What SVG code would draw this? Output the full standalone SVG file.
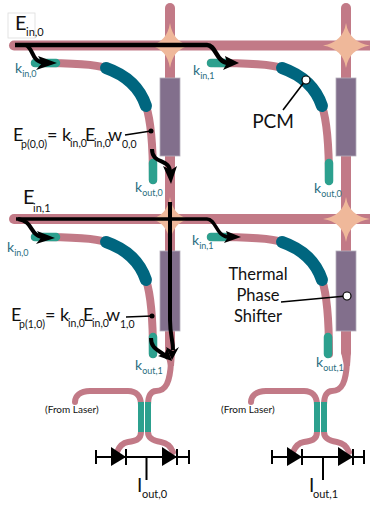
<svg xmlns="http://www.w3.org/2000/svg" width="370" height="506" viewBox="0 0 370 506">
<style>
text{font-family:Lato,"Open Sans",sans-serif;fill:#111}
.wg{fill:none;stroke:#c27a87;stroke-width:10;stroke-linecap:round}
.wc{fill:none;stroke:#c27a87;stroke-width:8;stroke-linecap:round}
.wt{fill:none;stroke:#c27a87;stroke-width:6;stroke-linecap:round}
.star{fill:#efb89a}
.ps{fill:#826f8c;stroke:#b5aebb;stroke-width:.8}
.cp{fill:none;stroke:#2ca08e;stroke-width:8.500;stroke-linecap:round}
.ct{fill:#2ca08e}
.pcm{fill:none;stroke:#00667f;stroke-width:12;stroke-linecap:round}
.k{fill:#2b6e80;font-size:14px}
.k tspan{font-size:9px}
.eq{font-size:18px}
.sub{font-size:10.500px}
.ar{fill:none;stroke:#000;stroke-width:4}
.ah{fill:#000}
.ld{fill:none;stroke:#000;stroke-width:1.6}
.det{fill:none;stroke:#000;stroke-width:2}
.lab{font-size:16.500px;text-anchor:middle}
.las{font-size:10px}
</style>
<g id="waveguides">
<path class="wg" d="M170 8V352"/><path class="wg" d="M346 8V352"/>
<path class="wg" d="M14 45.500H370"/><path class="wg" d="M14 219H370"/>
<path class="wc" d="M35 63C70 63 95 64 106 68C126 75 140 88 146 106C150 118 153 140 153 180"/>
<path class="wc" d="M211 63C246 63 271 64 282 68C302 75 316 88 322 106C326 118 329 140 329 180"/>
<path class="wc" d="M35 237C70 237 95 238 106 242C126 249 140 262 146 280C150 292 153 314 153 354"/>
<path class="wc" d="M211 237C246 237 271 238 282 242C302 249 316 262 322 280C326 292 329 314 329 354"/>
<path class="wt" d="M75 402C75 396 80 391 90 391H128C136 391 141 396 141 405V432C141 440 135 441 128 442C122 443 119 447 117 452"/>
<path class="wt" d="M171 362C170 382 166 391 156 391C151 391 148 396 148 405V432C148 439 154 441 161 442C167 443 171 447 173 452"/>
<path class="wt" d="M251 402C251 396 256 391 266 391H304C312 391 317 396 317 405V432C317 440 311 441 304 442C298 443 295 447 293 452"/>
<path class="wt" d="M347 362C346 382 342 391 332 391C327 391 324 396 324 405V432C324 439 330 441 337 442C343 443 347 447 349 452"/>
<path d="M165 352H175L174 366H168Z" fill="#c27a87"/><path d="M341 352H351L350 366H344Z" fill="#c27a87"/>
</g>
<g id="crossing-0-0"><path class="star" d="M170 23Q173 42 190 45.500Q173 49 170 68Q167 49 150 45.500Q167 42 170 23Z"/></g>
<g id="crossing-1-0"><path class="star" d="M346 23Q349 42 370 45.500Q349 49 346 68Q343 49 323 45.500Q343 42 346 23Z"/></g>
<g id="crossing-0-1"><path class="star" d="M170 197Q173 216 190 219Q173 222 170 242Q167 222 150 219Q167 216 170 197Z"/></g>
<g id="crossing-1-1"><path class="star" d="M346 197Q349 216 370 219Q349 222 346 242Q343 222 323 219Q343 216 346 197Z"/></g>
<g id="shifters">
<rect class="ps" x="160" y="78" width="20" height="78"/><rect class="ps" x="336" y="78" width="20" height="78"/>
<rect class="ps" x="160" y="251" width="20" height="80"/><rect class="ps" x="336" y="251" width="20" height="80"/>
</g>
<g id="couplers">
<path class="cp" d="M35 63H56"/><path class="cp" d="M211 63H225"/><path class="cp" d="M153 163V180"/><path class="cp" d="M329 163V181"/>
<path class="cp" d="M35 237H56"/><path class="cp" d="M211 237H225"/><path class="cp" d="M153 337V354"/><path class="cp" d="M328 337V354"/>
<rect class="ct" x="138" y="402" width="6" height="30"/><rect class="ct" x="145" y="402" width="6" height="30"/>
<rect class="ct" x="314" y="402" width="6" height="30"/><rect class="ct" x="321" y="402" width="6" height="30"/>
</g>
<g id="pcm">
<path class="pcm" d="M106 68C126 75 140 88 146 106"/><path class="pcm" d="M282 68C302 75 316 88 322 106"/>
<path class="pcm" d="M106 242C126 249 140 262 146 280"/><path class="pcm" d="M282 242C302 249 316 262 322 280"/>
</g>
<g id="connectors">
<path class="ar" style="stroke-width:4.500" d="M15 45H207C216 45 216 62 228 63"/>
<path class="ar" d="M26 45C35 50 30 62 46 63"/><path class="ah" d="M57 63L36 70L42 63L38 56Z"/><path class="ah" d="M239 63L223 70L227 63L225 56Z"/>
<path class="ar" d="M152 149C152 165 170 158 170 172"/><path class="ah" d="M171 184L163 166L171 170L177 166Z"/>
<path class="ar" style="stroke-width:3.500" d="M16 219H207C216 219 216 236 228 237"/>
<path class="ar" d="M18 219C35 222 28 236 46 238"/><path class="ah" d="M55 238L36 244L41 238L37 231Z"/><path class="ah" d="M241 237L224 243L228 237L226 231Z"/>
<path class="ar" d="M170 202V320C170 335 173 340 173 350"/><path class="ah" d="M172 360L166 347L173 351L179 347Z"/>
<path class="ar" d="M151 338C151 350 160 350 168 358"/><path class="ah" d="M172 361L158 356L165 353L167 348Z"/>
</g>
<g id="leaders">
<path class="ld" d="M125 135L151 131"/><circle cx="151" cy="131" r="2.500"/>
<path class="ld" d="M126 317L152 316"/><circle cx="152" cy="316" r="2.500"/>
<path class="ld" d="M283 110L305 81"/><circle cx="306" cy="80" r="4" fill="#fff" stroke="#000" stroke-width="1.200"/>
<path class="ld" d="M281 302L346 296"/><circle cx="347" cy="296" r="4" fill="#fff" stroke="#000" stroke-width="1.200"/>
</g>
<g id="detector-0">
<path class="det" d="M96 457H189M96 450V464M126 449V465M177 449V465M189 450V464M146.500 457V480"/>
<path d="M111 447L126 457L111 466Z"/><path d="M162 447L177 457L162 466Z"/>
</g>
<g id="detector-1">
<path class="det" d="M272 457H364M272 450V464M302 449V465M353 449V465M364 450V464M323 457V480"/>
<path d="M287 447L302 457L287 466Z"/><path d="M338 447L353 457L338 466Z"/>
</g>
<g id="labels">
<rect x="8" y="13" width="27" height="25" fill="#fff" fill-opacity=".6" stroke="#ddd" stroke-width=".8"/>
<text x="15" y="30" font-size="20">E</text><text x="26" y="36" font-size="11">in,0</text>
<text x="23" y="204" font-size="20">E</text><text x="33" y="212" font-size="11">in,1</text>
<text class="k" x="15" y="73">k<tspan dy="4">in,0</tspan></text>
<text class="k" x="193" y="75">k<tspan dy="4">in,1</tspan></text>
<text class="k" x="135" y="192">k<tspan dy="4">out,0</tspan></text>
<text class="k" x="314" y="193">k<tspan dy="4">out,0</tspan></text>
<text class="k" x="7" y="252">k<tspan dy="4">in,0</tspan></text>
<text class="k" x="192" y="245">k<tspan dy="4">in,1</tspan></text>
<text class="k" x="135" y="370">k<tspan dy="4">out,1</tspan></text>
<text class="k" x="316" y="367">k<tspan dy="4">out,1</tspan></text>
<text class="eq" x="13" y="141">E</text><text class="sub" x="21" y="148">p(0,0)</text><text class="eq" x="47" y="141">=</text><text class="eq" x="62" y="141">k</text><text class="sub" x="70" y="147">in,0</text><text class="eq" x="85" y="141">E</text><text class="sub" x="94" y="147">in,0</text><text class="eq" x="108" y="141">w</text><text class="sub" x="122" y="148">0,0</text>
<text class="eq" x="11" y="321">E</text><text class="sub" x="19" y="328">p(1,0)</text><text class="eq" x="45" y="321">=</text><text class="eq" x="60" y="321">k</text><text class="sub" x="68" y="327">in,0</text><text class="eq" x="83" y="321">E</text><text class="sub" x="92" y="327">in,0</text><text class="eq" x="106" y="321">w</text><text class="sub" x="120" y="328">1,0</text>
<text class="lab" x="273" y="128" style="font-size:19px">PCM</text>
<text class="lab" x="258" y="280">Thermal</text>
<text class="lab" x="258" y="301">Phase</text>
<text class="lab" x="258" y="322">Shifter</text>
<text class="las" x="45" y="413">(From Laser)</text>
<text class="las" x="221" y="413">(From Laser)</text>
<text x="137" y="492" font-size="19">I</text><text x="142" y="498" font-size="11">out,0</text>
<text x="309" y="492" font-size="19">I</text><text x="313" y="498" font-size="11">out,1</text>
</g>
</svg>
